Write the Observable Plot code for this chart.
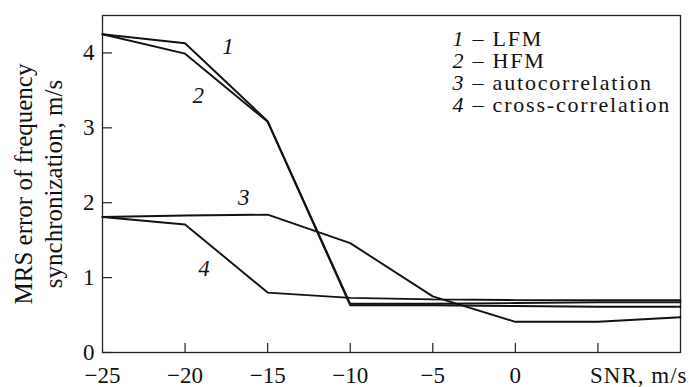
<!DOCTYPE html>
<html>
<head>
<meta charset="utf-8">
<script src="https://cdn.jsdelivr.net/npm/d3@7"></script>
<script src="https://cdn.jsdelivr.net/npm/@observablehq/plot@0.6"></script>
<style>
  html, body { margin: 0; padding: 0; background: #fff; }
  svg text { font-family: 'Liberation Serif', 'Times New Roman', serif; }
  .legend-text text { letter-spacing: 1.8px; }
  .snr-text text { letter-spacing: 1px; }
</style>
</head>
<body>
<div id="chart"></div>
<script>
// ---- data ----
const snr = [-25, -20, -15, -10, -5, 0, 5, 10];
const lfm = [4.25, 4.13, 3.09, 0.65, 0.65, 0.66, 0.67, 0.67];
const hfm = [4.25, 3.99, 3.08, 0.63, 0.63, 0.62, 0.61, 0.61];
const autocorr = [1.81, 1.83, 1.84, 1.46, 0.75, 0.41, 0.41, 0.47];
const crosscorr = [1.81, 1.71, 0.80, 0.73, 0.71, 0.70, 0.70, 0.70];

const seriesIds = ["1", "2", "3", "4"];
const seriesNames = ["LFM", "HFM", "autocorrelation", "cross-correlation"];
const seriesValues = [lfm, hfm, autocorr, crosscorr];

// curve number annotations (data coordinates)
const labelX = [-17.4, -19.2, -16.45, -18.85];
const labelY = [4.09, 3.43, 2.07, 1.12];

const xTickValues = [-20, -15, -10, -5, 0, 5];
const xTickLabels = [-25, -20, -15, -10, -5, 0];
const yTickValues = [0, 1, 2, 3, 4];

// ---- build tables ----
const rows = [];
seriesValues.forEach((vals, i) => {
  vals.forEach((v, j) => rows.push({series: seriesIds[i], snr: snr[j], value: v}));
});
const labels = seriesIds.map((id, i) => ({id, x: labelX[i], y: labelY[i]}));

const font = "'Liberation Serif', 'Times New Roman', serif";
const ink = "#111";

const chart = Plot.plot({
  width: 692,
  height: 387,
  marginLeft: 102,
  marginRight: 12,
  marginTop: 15,
  marginBottom: 35,
  x: {domain: [-25, 10]},
  y: {domain: [0, 4.5]},
  style: {fontFamily: font, fontSize: "23px", color: ink, background: "#fff", overflow: "visible"},
  marks: [
    Plot.frame({stroke: "#222", strokeWidth: 1.3}),
    // inward ticks
    Plot.ruleX(xTickValues, {x: d => d, insetTop: 328, stroke: "#222", strokeWidth: 1.2}),
    Plot.ruleY(yTickValues, {y: d => d, insetRight: 568, stroke: "#222", strokeWidth: 1.2}),
    // tick labels
    Plot.axisX({ticks: xTickLabels, tickSize: 0, tickPadding: 14, fontSize: 23, fontFamily: font, fill: ink,
      tickFormat: d => d < 0 ? "\u2212" + (-d) : String(d), label: null}),
    Plot.axisY({ticks: yTickValues, tickSize: 0, tickPadding: 8, fontSize: 23, fontFamily: font, fill: ink,
      tickFormat: d => String(d), label: null}),
    Plot.line(rows, {x: "snr", y: "value", z: "series", stroke: ink, strokeWidth: 1.9, strokeLinejoin: "miter"}),
    Plot.text(labels, {x: "x", y: "y", text: "id", fontStyle: "italic", fontSize: 23, fontFamily: font, fill: ink}),
    // legend
    Plot.text([seriesIds.join("\n")], {frameAnchor: "top-left", dx: 361, dy: 14.4, lineAnchor: "top",
      textAnchor: "end", lineHeight: 1.0, fontSize: 22, fontFamily: font, fontStyle: "italic", fill: ink}),
    Plot.text([seriesNames.map(n => "\u2013 " + n).join("\n")], {frameAnchor: "top-left", dx: 370, dy: 14.4, lineAnchor: "top",
      textAnchor: "start", lineHeight: 1.0, fontSize: 22, fontFamily: font, fill: ink, className: "legend-text"}),
    // y axis title
    Plot.text(["MRS error of frequency\nsynchronization, m/s"], {frameAnchor: "left", rotate: -90,
      dx: -65, dy: 0, textAnchor: "middle", lineAnchor: "middle", lineHeight: 1.2, fontSize: 25, fontFamily: font, fill: ink}),
    // x axis title
    Plot.text(["SNR, m/s"], {frameAnchor: "bottom-right", textAnchor: "end", lineAnchor: "top",
      dx: 7, dy: 14, fontSize: 23, fontFamily: font, fill: ink, className: "snr-text"})
  ]
});
document.getElementById("chart").appendChild(chart);
</script>
</body>
</html>
